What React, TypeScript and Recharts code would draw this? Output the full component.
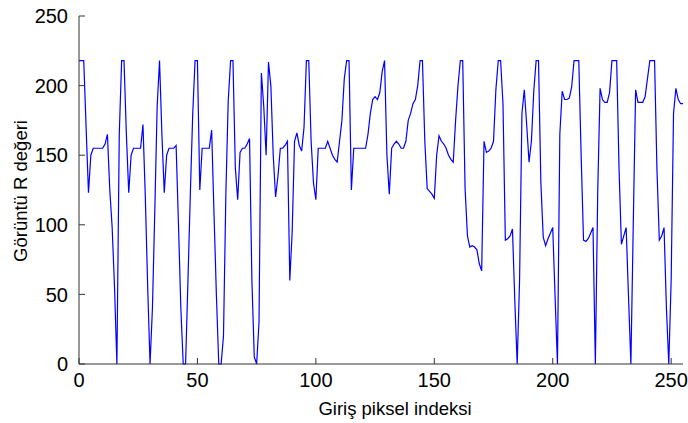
import React from 'react';
import { LineChart, Line, XAxis, YAxis, Label } from 'recharts';

// R channel value, one per input pixel index (0..255)
const rValues: number[] = [
  218, 218, 218, 170, 123, 150, 155, 155, 155, 155,
  155, 158, 165, 125, 98, 55, 0, 165, 218, 218,
  165, 123, 150, 155, 155, 155, 155, 172, 120, 55,
  0, 40, 110, 185, 218, 165, 123, 150, 155, 155,
  155, 157, 100, 40, 0, 0, 60, 122, 179, 218,
  218, 125, 155, 155, 155, 155, 168, 108, 50, 0,
  0, 20, 122, 189, 218, 218, 141, 118, 152, 155,
  155, 158, 162, 60, 5, 0, 30, 209, 185, 150,
  217, 200, 150, 120, 135, 155, 155, 157, 160, 60,
  95, 160, 166, 157, 153, 170, 218, 218, 160, 130,
  118, 155, 155, 155, 155, 160, 155, 150, 147, 145,
  160, 175, 205, 218, 218, 125, 155, 155, 155, 155,
  155, 155, 165, 180, 190, 192, 190, 195, 210, 218,
  150, 122, 155, 158, 160, 158, 155, 155, 160, 175,
  180, 187, 190, 200, 218, 218, 160, 126, 124, 122,
  119, 150, 164, 160, 158, 155, 150, 147, 145, 175,
  200, 218, 218, 126, 92, 84, 85, 84, 82, 72,
  67, 160, 152, 153, 155, 160, 197, 218, 218, 187,
  89, 90, 92, 97, 45, 0, 60, 180, 197, 172,
  145, 160, 196, 218, 218, 130, 91, 85, 90, 94,
  98, 48, 0, 165, 196, 190, 190, 191, 199, 218,
  218, 218, 150, 89, 88, 90, 94, 98, 0, 124,
  198, 190, 188, 188, 195, 218, 218, 218, 140, 86,
  92, 98, 48, 0, 100, 197, 188, 188, 188, 192,
  205, 218, 218, 218, 140, 89, 92, 98, 40, 0,
  60, 180, 198, 190, 187, 187,
];

const xTicks = [0, 50, 100, 150, 200, 250];
const yTicks = [0, 50, 100, 150, 200, 250];
const xLabel = 'Giriş piksel indeksi';
const yLabel = 'Görüntü R değeri';

const data = rValues.map((v, i) => ({ x: i, r: v }));

const font = '"Liberation Sans", Arial, sans-serif';
const axisColor = '#333333';
const tickFont = { fill: '#000', fontSize: 20, fontFamily: font };

const App: React.FC = () => {
  return (
    <div style={{ position: 'absolute', left: 0, top: 0, width: 688, height: 423, background: '#fff' }}>
      <LineChart
        width={688}
        height={423}
        data={data}
        margin={{ top: 16, right: 5, left: 0, bottom: 0 }}
      >
        <XAxis
          dataKey="x"
          type="number"
          domain={[0, 255]}
          ticks={xTicks}
          height={59}
          tickSize={-6}
          tickMargin={15}
          stroke={axisColor}
          tick={tickFont}
          interval={0}
        >
          <Label
            content={() => (
              <text x={395} y={415} textAnchor="middle" fontSize={18.5} fontFamily={font} fill="#000">
                {xLabel}
              </text>
            )}
          />
        </XAxis>
        <XAxis
          xAxisId="top"
          orientation="top"
          type="number"
          domain={[0, 255]}
          ticks={xTicks}
          height={0}
          tickSize={-6}
          stroke={axisColor}
          tick={false}
        />
        <YAxis
          type="number"
          domain={[0, 250]}
          ticks={yTicks}
          width={79}
          tickSize={-6}
          tickMargin={17}
          stroke={axisColor}
          tick={tickFont}
          interval={0}
        >
          <Label
            content={() => (
              <text
                x={20}
                y={191}
                transform="rotate(-90 20 191)"
                textAnchor="middle"
                dominantBaseline="central"
                fontSize={18.5}
                fontFamily={font}
                fill="#000"
              >
                {yLabel}
              </text>
            )}
          />
        </YAxis>
        <YAxis
          yAxisId="right"
          orientation="right"
          type="number"
          domain={[0, 250]}
          ticks={yTicks}
          width={0}
          tickSize={-6}
          stroke={axisColor}
          tick={false}
        />
        <Line
          type="linear"
          dataKey="r"
          stroke="#0000ff"
          strokeWidth={1.2}
          dot={false}
          isAnimationActive={false}
        />
      </LineChart>
    </div>
  );
};

export default App;
